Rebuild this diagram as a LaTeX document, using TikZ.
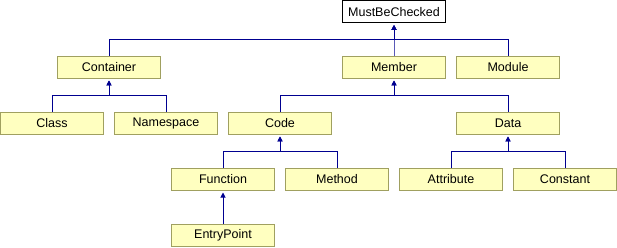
\documentclass[tikz,border=0pt]{standalone}
\usepackage{fontspec}
\setmainfont{Liberation Sans}
\usepackage{xcolor}
\usetikzlibrary{arrows.meta}

\definecolor{boxfill}{RGB}{255,255,192}
\definecolor{boxline}{RGB}{160,160,96}
\definecolor{edgeblue}{RGB}{0,0,144}

\tikzset{
	classbox/.style={draw=boxline, fill=boxfill, line width=1pt,
		minimum width=103pt, minimum height=22pt, inner sep=0pt,
		font=\fontsize{12.5}{15}\selectfont},
	rootbox/.style={classbox, draw=black, fill=white},
	inherit/.style={draw=edgeblue, line width=1pt,
		-{Triangle[length=5pt,width=5pt]}, shorten >=1.5pt}
}

\begin{document}
\begin{tikzpicture}[x=1pt, y=-1pt]
	\useasboundingbox (0,0) rectangle (617,248);

	% classes, row by row
	\node[rootbox]  (MustBeChecked) at (394,12)    {MustBeChecked};
	\node[classbox] (Container)     at (109,67.5)  {Container};
	\node[classbox] (Member)        at (394,67.5)  {Member};
	\node[classbox] (Module)        at (508,67.5)  {Module};
	\node[classbox] (Class)         at (52,123.5)  {Class};
	\node[classbox] (Namespace)     at (166,123.5) {Namespace};
	\node[classbox] (Code)          at (280,123.5) {Code};
	\node[classbox] (Data)          at (508,123.5) {Data};
	\node[classbox] (Function)      at (223,179.5) {Function};
	\node[classbox] (Method)        at (337,179.5) {Method};
	\node[classbox] (Attribute)     at (451,179.5) {Attribute};
	\node[classbox] (Constant)      at (565,179.5) {Constant};
	\node[classbox] (EntryPoint)    at (223,235.5) {EntryPoint};

	% inheritance lines
	\draw[inherit] (Container.north) -- ++(0,-16.5) -| (MustBeChecked.south);
	\draw[inherit] (Member.north) -- ++(0,-16.5) -| (MustBeChecked.south);
	\draw[inherit] (Module.north) -- ++(0,-16.5) -| (MustBeChecked.south);
	\draw[inherit] (Class.north) -- ++(0,-16.5) -| (Container.south);
	\draw[inherit] (Namespace.north) -- ++(0,-16.5) -| (Container.south);
	\draw[inherit] (Code.north) -- ++(0,-16.5) -| (Member.south);
	\draw[inherit] (Data.north) -- ++(0,-16.5) -| (Member.south);
	\draw[inherit] (Function.north) -- ++(0,-16.5) -| (Code.south);
	\draw[inherit] (Method.north) -- ++(0,-16.5) -| (Code.south);
	\draw[inherit] (Attribute.north) -- ++(0,-16.5) -| (Data.south);
	\draw[inherit] (Constant.north) -- ++(0,-16.5) -| (Data.south);
	\draw[inherit] (EntryPoint.north) -- (Function.south);
\end{tikzpicture}
\end{document}
